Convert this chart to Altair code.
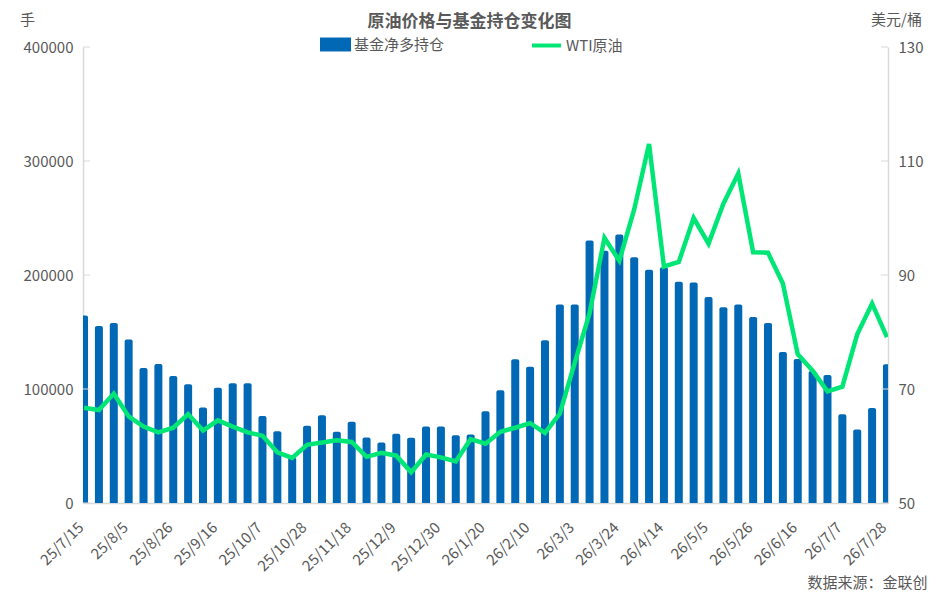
import altair as alt
import pandas as pd

dates = [
    "25/7/15", "25/7/22", "25/7/29", "25/8/5", "25/8/12", "25/8/19", "25/8/26",
    "25/9/2", "25/9/9", "25/9/16", "25/9/23", "25/9/30", "25/10/7", "25/10/14",
    "25/10/21", "25/10/28", "25/11/4", "25/11/11", "25/11/18", "25/11/25",
    "25/12/2", "25/12/9", "25/12/16", "25/12/23", "25/12/30",
    "26/1/6", "26/1/13", "26/1/20", "26/1/27", "26/2/3", "26/2/10", "26/2/17",
    "26/2/24", "26/3/3", "26/3/10", "26/3/17", "26/3/24", "26/3/31", "26/4/7",
    "26/4/14", "26/4/21", "26/4/28", "26/5/5", "26/5/12", "26/5/19", "26/5/26",
    "26/6/2", "26/6/9", "26/6/16", "26/6/23", "26/6/30", "26/7/7", "26/7/14",
    "26/7/21", "26/7/28",
]

net_long = [
    164500, 155200, 157800, 143500, 118500, 122000, 111500, 104200, 83700, 101000,
    105000, 105000, 76400, 63000, 40000, 67700, 77000, 62400, 71200, 57500,
    53100, 60700, 57200, 67100, 67100, 59500, 60100, 80500, 98900, 126000,
    119600, 142700, 174200, 174200, 230200, 221200, 235600, 215500, 204600, 206900,
    194000, 193500, 180600, 171800, 174200, 163100, 157800, 132500, 126300, 115800,
    112300, 77900, 64500, 83400, 121700,
]

wti = [
    66.7, 66.3, 69.2, 65.2, 63.4, 62.4, 63.2, 65.6, 62.7, 64.5,
    63.4, 62.4, 61.8, 58.9, 57.9, 60.2, 60.6, 61.0, 60.7, 58.1,
    58.8, 58.3, 55.4, 58.5, 58.0, 57.3, 61.2, 60.4, 62.5, 63.2,
    64.0, 62.3, 65.7, 74.6, 83.3, 96.5, 92.5, 101.5, 113.0, 91.5,
    92.3, 100.0, 95.5, 102.5, 107.8, 94.0, 93.9, 88.5, 76.1, 73.2,
    69.6, 70.4, 79.6, 85.0, 79.1,
]

x_tick_index = list(range(0, len(dates), 3))
left_ticks = [0, 100000, 200000, 300000, 400000]
right_ticks = [50, 70, 90, 110, 130]

BAR_NAME = "基金净多持仓"
LINE_NAME = "WTI原油"
FONT = "Noto Sans CJK SC"
GRAY = "#595959"
AXIS_GRAY = "#d9d9d9"
BLUE = "#0068B5"
GREEN = "#00E676"

df = pd.DataFrame({"idx": list(range(len(dates))), "net": net_long, "wti": wti})
df["s1"] = BAR_NAME
df["s2"] = LINE_NAME

lt = pd.DataFrame({"v": left_ticks})
rt = pd.DataFrame({"v": right_ticks})

label_array = "[" + ",".join("'" + d + "'" for d in dates) + "]"

x_scale = alt.Scale(
    domain=[-0.07, len(dates) - 1 + 0.07], nice=False, zero=False, padding=0
)

x_enc = alt.X(
    "idx:Q",
    scale=x_scale,
    axis=alt.Axis(
        values=x_tick_index,
        labelExpr=label_array + "[datum.value]",
        labelAngle=-45,
        labelAlign="right",
        labelBaseline="alphabetic",
        labelFontSize=15,
        labelColor=GRAY,
        labelFont=FONT,
        labelPadding=25,
        labelFlush=False,
        labelOverlap=False,
        ticks=False,
        grid=False,
        domainColor=AXIS_GRAY,
        domainWidth=1.5,
        title="数据来源：金联创",
        titleFont=FONT,
        titleFontSize=15,
        titleFontWeight="normal",
        titleColor=GRAY,
        titleAlign="right",
        titleBaseline="middle",
        titleX=844,
        titleY=79,
    ),
)

left_scale = alt.Scale(domain=[0, 400000], nice=False)
right_scale = alt.Scale(domain=[50, 130], nice=False)

bars = alt.Chart(df).mark_bar(
    size=8, clip=True, cornerRadiusTopLeft=2, cornerRadiusTopRight=2
).encode(
    x=x_enc,
    y=alt.Y(
        "net:Q",
        stack=None,
        scale=left_scale,
        axis=alt.Axis(
            values=left_ticks,
            format="d",
            ticks=False,
            grid=False,
            labelFontSize=15,
            labelColor=GRAY,
            labelFont=FONT,
            labelPadding=10,
            domainColor=AXIS_GRAY,
            domainWidth=1.5,
            title="手",
            titleAngle=0,
            titleFont=FONT,
            titleFontSize=15,
            titleFontWeight="normal",
            titleColor=GRAY,
            titleAlign="center",
            titleBaseline="middle",
            titleX=-56,
            titleY=-28,
        ),
    ),
    color=alt.Color(
        "s1:N",
        scale=alt.Scale(range=[BLUE]),
        legend=alt.Legend(
            orient="none",
            legendX=237,
            legendY=-18,
            title=None,
            padding=0,
            symbolType="M-1,-0.45L1,-0.45L1,0.45L-1,0.45Z",
            symbolSize=961,
            symbolStrokeWidth=0,
            symbolOpacity=1,
            labelFont=FONT,
            labelFontSize=15,
            labelColor=GRAY,
            labelOffset=3,
        ),
    ),
)

lticks = alt.Chart(lt).mark_rule(color=AXIS_GRAY, strokeWidth=1).encode(
    y=alt.Y("v:Q", scale=left_scale, axis=None),
    x=alt.value(0),
    x2=alt.value(7),
)

line = alt.Chart(df).mark_line(strokeWidth=4.5, clip=True).encode(
    x=x_enc,
    y=alt.Y(
        "wti:Q",
        scale=right_scale,
        axis=alt.Axis(
            orient="right",
            values=right_ticks,
            ticks=False,
            grid=False,
            labelFontSize=15,
            labelColor=GRAY,
            labelFont=FONT,
            labelPadding=10,
            domainColor=AXIS_GRAY,
            domainWidth=1.5,
            title="美元/桶",
            titleAngle=0,
            titleFont=FONT,
            titleFontSize=15,
            titleFontWeight="normal",
            titleColor=GRAY,
            titleAlign="center",
            titleBaseline="middle",
            titleX=8,
            titleY=-28,
        ),
    ),
    stroke=alt.Stroke(
        "s2:N",
        scale=alt.Scale(range=[GREEN]),
        legend=alt.Legend(
            orient="none",
            legendX=447,
            legendY=-18,
            title=None,
            padding=0,
            symbolType="stroke",
            symbolSize=841,
            symbolStrokeWidth=4,
            labelFont=FONT,
            labelFontSize=15,
            labelColor=GRAY,
            labelOffset=3,
        ),
    ),
)

rticks = alt.Chart(rt).mark_rule(color=AXIS_GRAY, strokeWidth=1).encode(
    y=alt.Y("v:Q", scale=right_scale, axis=None),
    x=alt.value(798),
    x2=alt.value(805),
)

chart = (
    alt.layer(bars, lticks, line, rticks)
    .resolve_scale(y="independent", color="independent", stroke="independent")
    .properties(
        width=805,
        height=456,
        autosize=alt.AutoSizeParams(type="none"),
        padding={"left": 75, "top": 39, "right": 41, "bottom": 90},
        title=alt.TitleParams(
            "原油价格与基金持仓变化图",
            font=FONT,
            fontSize=17,
            fontWeight="bold",
            color=GRAY,
            anchor="middle",
            frame="group",
            dx=-16,
            dy=19,
            offset=0,
        ),
    )
    .configure_view(stroke=None)
    .configure_axis(grid=False)
)

chart.save("out.html", embed_options={"renderer": "svg", "actions": False})
